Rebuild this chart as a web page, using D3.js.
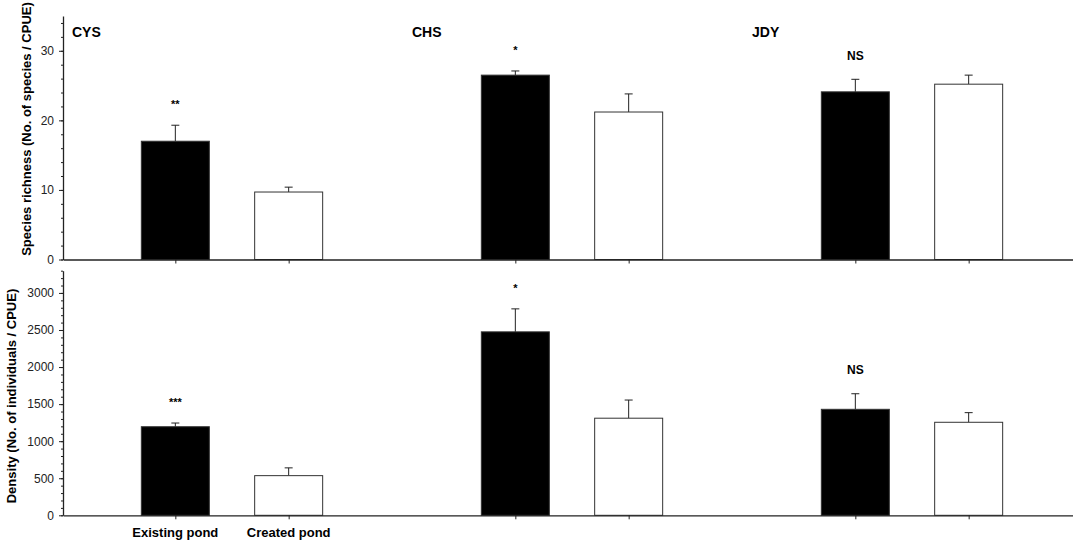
<!DOCTYPE html>
<html>
<head>
<meta charset="utf-8">
<script src="https://cdn.jsdelivr.net/npm/d3@7"></script>
<style>
  body { margin: 0; background: #fff; }
  svg { display: block; font-family: "Liberation Sans", Arial, sans-serif; }
  .axis path, .axis line { stroke: #222; }
  .axis text { font-size: 12px; fill: #222; }
</style>
</head>
<body>
<div class="container"></div>
<script>
// data
var sites = ["CYS", "CHS", "JDY"];
var ponds = ["Existing pond", "Created pond"];

var richnessExisting = [17.0, 26.5, 24.1];
var richnessCreated = [9.7, 21.2, 25.2];
var richnessSeExisting = [2.3, 0.6, 1.8];
var richnessSeCreated = [0.7, 2.6, 1.3];
var richnessSig = ["**", "*", "NS"];

var densityExisting = [1195, 2475, 1430];
var densityCreated = [535, 1310, 1255];
var densitySeExisting = [50, 310, 210];
var densitySeCreated = [105, 245, 130];
var densitySig = ["***", "*", "NS"];

var richnessTicks = [0, 10, 20, 30];
var densityTicks = [0, 500, 1000, 1500, 2000, 2500, 3000];

var width = 1073, height = 545;
var left = 63;

var svg = d3.select(".container")
    .append("svg")
    .attr("width", width)
    .attr("height", height);

var x = d3.scaleBand()
    .domain(sites)
    .range([left - 1, left - 1 + 3 * 340]);

var bw = x.bandwidth();
var barW = bw * 0.2;

function pondX(site, j) {
    return x(site) + bw * (j + 1) / 3;
}

var centers = [];
sites.forEach(function(s) {
    centers.push(pondX(s, 0), pondX(s, 1));
});

function drawPanel(opts) {
    var y = d3.scaleLinear().domain(opts.domain).range(opts.range);
    var g = svg.append("g");

    var rows = [];
    sites.forEach(function(s, i) {
        rows.push({site: s, j: 0, v: opts.existing[i], se: opts.seExisting[i]});
        rows.push({site: s, j: 1, v: opts.created[i], se: opts.seCreated[i]});
    });

    // error bars (upper only)
    g.selectAll(".err")
        .data(rows)
        .enter()
        .append("line")
        .attr("x1", function(d) { return pondX(d.site, d.j); })
        .attr("x2", function(d) { return pondX(d.site, d.j); })
        .attr("y1", function(d) { return y(d.v); })
        .attr("y2", function(d) { return y(d.v + d.se); })
        .attr("stroke", "#222")
        .attr("stroke-width", 1);

    g.selectAll(".cap")
        .data(rows)
        .enter()
        .append("line")
        .attr("x1", function(d) { return pondX(d.site, d.j) - 4; })
        .attr("x2", function(d) { return pondX(d.site, d.j) + 4; })
        .attr("y1", function(d) { return y(d.v + d.se); })
        .attr("y2", function(d) { return y(d.v + d.se); })
        .attr("stroke", "#222")
        .attr("stroke-width", 1);

    g.selectAll(".bar")
        .data(rows)
        .enter()
        .append("rect")
        .attr("x", function(d) { return pondX(d.site, d.j) - barW / 2; })
        .attr("width", barW)
        .attr("y", function(d) { return y(d.v); })
        .attr("height", function(d) { return y(0) - y(d.v); })
        .attr("fill", function(d) { return d.j == 0 ? "#000" : "#fff"; })
        .attr("stroke", "#333")
        .attr("stroke-width", 1);

    // significance marks over the existing pond bar
    g.selectAll(".sig")
        .data(opts.sig)
        .enter()
        .append("text")
        .attr("x", function(d, i) { return pondX(sites[i], 0); })
        .attr("y", function(d, i) {
            return y(opts.existing[i] + opts.seExisting[i]) - 24;
        })
        .attr("dy", function(d) { return d == "NS" ? "0.36em" : "0.62em"; })
        .attr("text-anchor", "middle")
        .style("font-size", function(d) { return d == "NS" ? "12px" : "11px"; })
        .style("font-weight", "bold")
        .text(function(d) { return d; });

    // y axis: minor then major
    g.append("g")
        .attr("class", "axis")
        .attr("transform", "translate(" + left + ",0)")
        .call(d3.axisLeft(y).tickValues(d3.range(opts.domain[0], opts.domain[1] + 0.001, opts.minor))
            .tickSize(2).tickFormat(""))
        .call(function(a) { a.select(".domain").remove(); });

    g.append("g")
        .attr("class", "axis")
        .attr("transform", "translate(" + left + ",0)")
        .call(d3.axisLeft(y).tickValues(opts.ticks).tickSize(4).tickSizeOuter(0)
            .tickPadding(5).tickFormat(d3.format("d")))
        .call(function(a) { a.select(".domain").attr("stroke-width", 1.3); });

    // x axis
    var xa = g.append("g")
        .attr("class", "axis")
        .attr("transform", "translate(0," + y(0) + ")")
        .call(d3.axisBottom(d3.scaleLinear().domain([left, width]).range([left, width]))
            .tickValues(centers).tickSize(4).tickSizeOuter(0).tickFormat(""));
    xa.select(".domain").attr("stroke-width", 1.3);

    svg.append("text")
        .attr("transform", "translate(" + opts.titleX + "," + opts.titleY + ") rotate(-90)")
        .attr("text-anchor", "middle")
        .attr("dy", "0.35em")
        .style("font-size", "13px")
        .style("font-weight", "bold")
        .text(opts.title);

    return y;
}

drawPanel({
    domain: [0, 35],
    range: [259.5, 16],
    existing: richnessExisting,
    created: richnessCreated,
    seExisting: richnessSeExisting,
    seCreated: richnessSeCreated,
    sig: richnessSig,
    ticks: richnessTicks,
    minor: 2,
    title: "Species richness (No. of species / CPUE)",
    titleX: 26,
    titleY: 129
});

drawPanel({
    domain: [0, 3300],
    range: [515.3, 270.7],
    existing: densityExisting,
    created: densityCreated,
    seExisting: densitySeExisting,
    seCreated: densitySeCreated,
    sig: densitySig,
    ticks: densityTicks,
    minor: 100,
    title: "Density (No. of individuals / CPUE)",
    titleX: 11,
    titleY: 396
});

// site labels
svg.selectAll(".site")
    .data(sites)
    .enter()
    .append("text")
    .attr("x", function(d) { return x(d) + 10; })
    .attr("y", 37)
    .style("font-size", "14px")
    .style("font-weight", "bold")
    .text(function(d) { return d; });

// pond labels under the first site
svg.selectAll(".pond")
    .data(ponds)
    .enter()
    .append("text")
    .attr("x", function(d, j) { return pondX(sites[0], j); })
    .attr("y", 537)
    .attr("text-anchor", "middle")
    .style("font-size", "13px")
    .style("font-weight", "bold")
    .text(function(d) { return d; });
</script>
</body>
</html>
